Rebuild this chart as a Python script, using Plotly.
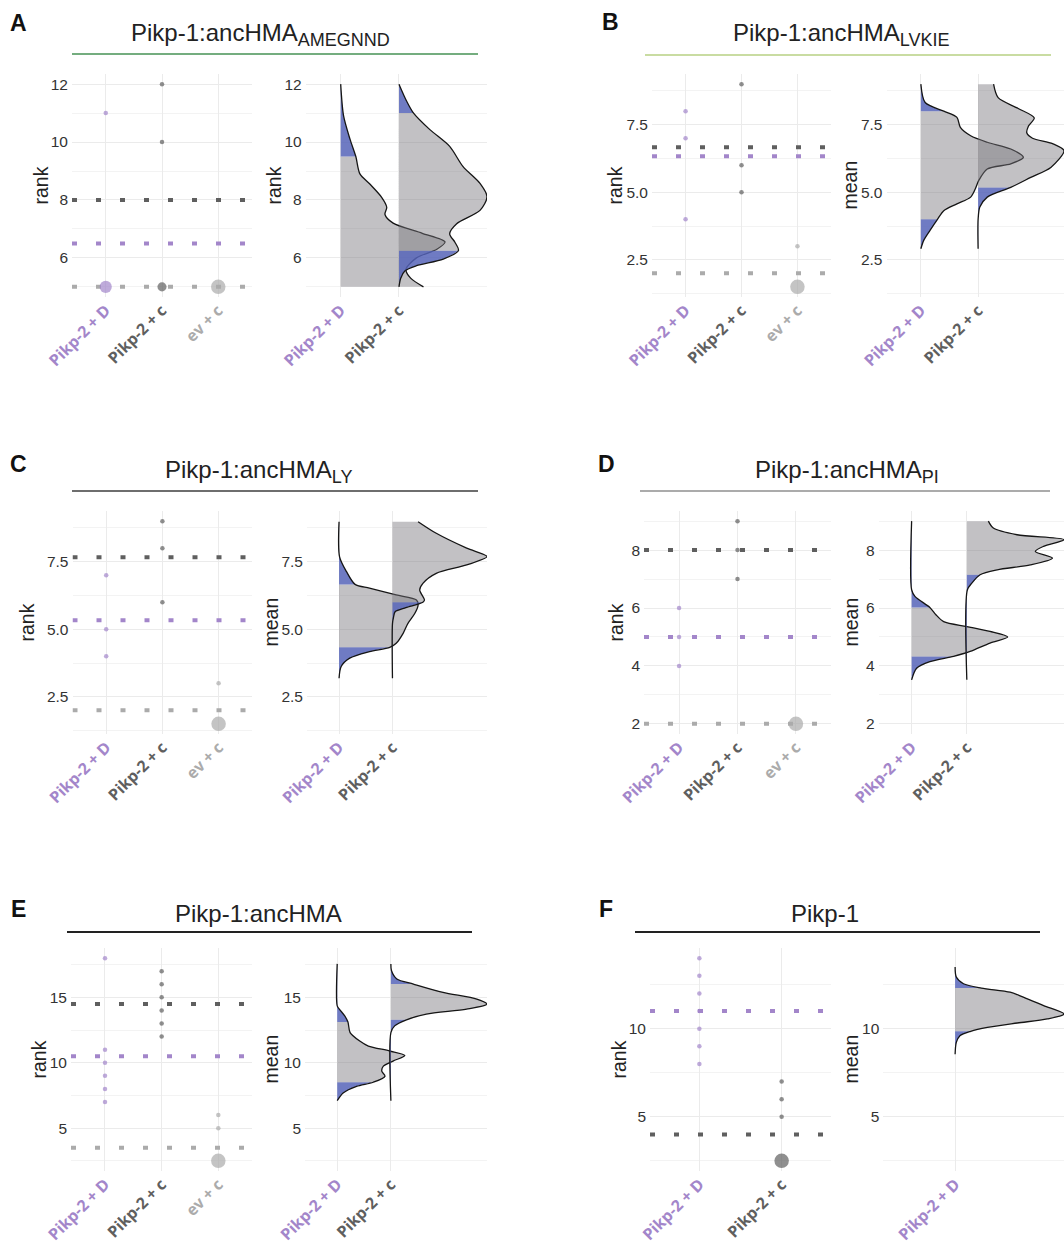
import numpy as np
import plotly.graph_objects as go

FIG_W, FIG_H = 1064, 1249

GROUPS = ["Pikp-2 + D", "Pikp-2 + c", "ev + c"]
GROUP_COLORS = ["#a386ca", "#5f5f5f", "#ababab"]

# ---- per-replicate ranks -------------------------------------------------
A_rank_D = [11, 5, 5, 5]
A_rank_c = [12, 10, 5, 5]
A_rank_ev = [5, 5, 5, 5]

B_rank_D = [8, 7, 4]
B_rank_c = [9, 6, 5]
B_rank_ev = [3, 1.5, 1.5]

C_rank_D = [7, 5, 4]
C_rank_c = [9, 8, 6]
C_rank_ev = [3, 1.5, 1.5]

D_rank_D = [6, 5, 4]
D_rank_c = [9, 8, 7]
D_rank_ev = [2, 2, 2]

E_rank_D = [18, 11, 10, 9, 8, 7]
E_rank_c = [17, 16, 15, 14, 13, 12]
E_rank_ev = [6, 5, 2.5, 2.5, 2.5, 2.5]

F_rank_D = [14, 13, 12, 11, 10, 9, 8]
F_rank_c = [7, 6, 5, 2.5, 2.5, 2.5, 2.5]

# ---- bootstrap densities of the mean rank (value, density width) ---------
A_dens_D_y = [5.0, 5.3, 5.6, 6.0, 6.3, 6.55, 6.85, 7.2, 7.5, 7.75, 8.1, 8.55, 8.9, 9.5, 10.1, 10.9, 12.0]
A_dens_D_w = [1.42, 1.2, 1.12, 1.3, 1.65, 1.79, 1.4, 0.9, 0.76, 0.79, 0.7, 0.5, 0.33, 0.26, 0.16, 0.05, 0.0]
A_ci_D = (5.0, 9.5)
A_dens_c_y = [5.0, 5.3, 5.55, 5.73, 5.96, 6.25, 6.54, 6.83, 7.18, 7.64, 8.11, 8.57, 9.15, 9.85, 10.43, 11.0, 11.42, 12.0]
A_dens_c_w = [0.0, 0.03, 0.1, 0.3, 0.76, 1.02, 0.96, 0.87, 0.99, 1.39, 1.51, 1.39, 1.1, 0.87, 0.53, 0.25, 0.13, 0.0]
A_ci_c = (6.25, 11.0)

B_dens_D_y = [2.91, 3.22, 3.59, 4.0, 4.32, 4.57, 4.82, 5.12, 5.43, 5.86, 6.05, 6.29, 6.6, 6.85, 7.09, 7.4, 7.77, 8.0, 8.32, 9.0]
B_dens_D_w = [0.0, 0.05, 0.16, 0.29, 0.4, 0.63, 0.87, 0.95, 1.01, 1.16, 1.57, 1.79, 1.57, 1.16, 0.87, 0.69, 0.63, 0.4, 0.075, 0.0]
B_ci_D = (4.0, 8.0)
B_dens_c_y = [2.91, 4.0, 4.45, 4.82, 5.18, 5.55, 5.92, 6.54, 6.8, 7.0, 7.2, 7.45, 7.75, 8.1, 8.5, 9.0]
B_dens_c_w = [0.0, 0.0, 0.03, 0.16, 0.57, 0.92, 1.27, 1.5, 1.3, 0.95, 0.85, 0.88, 0.98, 0.7, 0.35, 0.27]
B_ci_c = (5.18, 9.0)

C_dens_D_y = [3.19, 3.62, 3.93, 4.17, 4.33, 4.48, 4.85, 5.22, 5.59, 5.9, 6.08, 6.27, 6.52, 6.66, 7.13, 7.68, 8.98]
C_dens_D_w = [0.0, 0.04, 0.2, 0.57, 0.95, 1.07, 1.2, 1.29, 1.42, 1.48, 1.45, 1.07, 0.57, 0.3, 0.14, 0.01, 0.0]
C_ci_D = (4.33, 6.66)
C_dens_c_y = [3.19, 5.2, 5.45, 5.65, 5.8, 6.0, 6.08, 6.45, 6.7, 7.07, 7.38, 7.69, 8.0, 8.55, 8.98]
C_dens_c_w = [0.0, 0.0, 0.02, 0.05, 0.25, 0.57, 0.6, 0.51, 0.57, 0.82, 1.39, 1.77, 1.39, 0.82, 0.48]
C_ci_c = (6.0, 8.98)

D_dens_D_y = [3.52, 3.92, 4.15, 4.33, 4.5, 4.79, 5.0, 5.19, 5.36, 5.53, 5.77, 6.02, 6.4, 6.63, 9.0]
D_dens_D_w = [0.0, 0.09, 0.33, 0.76, 1.06, 1.42, 1.74, 1.42, 1.0, 0.58, 0.44, 0.33, 0.06, 0.0, 0.0]
D_ci_D = (4.33, 6.02)
D_dens_c_y = [3.52, 6.63, 6.86, 7.15, 7.32, 7.49, 7.72, 7.95, 8.13, 8.36, 8.53, 8.76, 9.0]
D_dens_c_w = [0.0, 0.01, 0.09, 0.24, 0.55, 1.15, 1.55, 1.24, 1.39, 1.76, 0.91, 0.48, 0.39]
D_ci_c = (7.15, 9.0)

E_dens_D_y = [7.1, 7.69, 8.2, 8.51, 8.97, 9.36, 9.74, 10.13, 10.56, 10.9, 11.28, 11.66, 12.31, 13.12, 13.58, 14.1, 14.35, 17.56]
E_dens_D_w = [0.0, 0.11, 0.36, 0.67, 0.89, 0.83, 0.86, 1.04, 1.26, 0.98, 0.58, 0.42, 0.24, 0.2, 0.14, 0.04, 0.0, 0.0]
E_ci_D = (8.51, 13.12)
E_dens_c_y = [7.1, 12.31, 12.82, 13.28, 13.72, 14.1, 14.48, 14.87, 15.38, 16.02, 16.41, 17.05, 17.56]
E_dens_c_w = [0.0, 0.0, 0.07, 0.29, 0.66, 1.41, 1.79, 1.6, 0.97, 0.42, 0.11, 0.01, 0.0]
E_ci_c = (13.28, 16.02)

F_dens_D_y = [8.55, 9.22, 9.6, 9.85, 10.07, 10.32, 10.55, 10.83, 11.31, 11.79, 12.07, 12.3, 12.55, 12.93, 13.5]
F_dens_D_w = [0.0, 0.01, 0.04, 0.13, 0.27, 0.52, 0.77, 0.91, 0.74, 0.57, 0.46, 0.22, 0.07, 0.01, 0.0]
F_ci_D = (9.85, 12.3)

# ---- styling --------------------------------------------------------------
GRID = "#ebebeb"
GRID_MINOR = "#f3f3f3"
TEXT = "#222222"
FONT = "Liberation Sans, Arial, sans-serif"
TICK_FONT = "Open Sans, Liberation Sans, sans-serif"
GREY_FILL = "rgba(120,118,124,0.45)"
BLUE_FILL = "rgba(86,100,184,0.85)"
ROW_H = 223


def variant(name, suffix=""):
    if not suffix:
        return name
    return f"{name}<sub><span style='font-size:18px'>{suffix}</span></sub>"


PANELS = [
    dict(letter="A", letter_xy=(18.5, 23.5), title=variant("Pikp-1:ancHMA", "AMEGNND"), title_xy=(260, 35),
         rule=(72, 478, 54), rule_color="#74ad7f", top=74,
         ranks=[A_rank_D, A_rank_c, A_rank_ev],
         dens=[(A_dens_D_y, A_dens_D_w, A_ci_D), (A_dens_c_y, A_dens_c_w, A_ci_c)],
         dens_label="rank", dot_px=(72, 252), dens_px=(305.7, 487), ytitle_px=(41, 274),
         dtick=2, minor=1, fmt=""),
    dict(letter="B", letter_xy=(610, 22.5), title=variant("Pikp-1:ancHMA", "LVKIE"), title_xy=(841, 35),
         rule=(645, 1051, 55), rule_color="#c9dca2", top=74,
         ranks=[B_rank_D, B_rank_c, B_rank_ev],
         dens=[(B_dens_D_y, B_dens_D_w, B_ci_D), (B_dens_c_y, B_dens_c_w, B_ci_c)],
         dens_label="mean", dot_px=(652, 831), dens_px=(886.5, 1064), ytitle_px=(615, 850),
         dtick=2.5, minor=1.25, fmt=".1f"),
    dict(letter="C", letter_xy=(18.5, 464), title=variant("Pikp-1:ancHMA", "LY"), title_xy=(258, 472),
         rule=(72, 478, 491), rule_color="#6e6e6e", top=511,
         ranks=[C_rank_D, C_rank_c, C_rank_ev],
         dens=[(C_dens_D_y, C_dens_D_w, C_ci_D), (C_dens_c_y, C_dens_c_w, C_ci_c)],
         dens_label="mean", dot_px=(72.5, 252.3), dens_px=(307, 487), ytitle_px=(26, 270),
         dtick=2.5, minor=1.25, fmt=".1f"),
    dict(letter="D", letter_xy=(606, 464), title=variant("Pikp-1:ancHMA", "PI"), title_xy=(847, 472),
         rule=(640, 1050, 491), rule_color="#ababab", top=511,
         ranks=[D_rank_D, D_rank_c, D_rank_ev],
         dens=[(D_dens_D_y, D_dens_D_w, D_ci_D), (D_dens_c_y, D_dens_c_w, D_ci_c)],
         dens_label="mean", dot_px=(644, 831), dens_px=(878.5, 1064), ytitle_px=(615, 850),
         dtick=2, minor=1, fmt=""),
    dict(letter="E", letter_xy=(18.5, 909), title=variant("Pikp-1:ancHMA"), title_xy=(258, 913),
         rule=(67, 472, 932), rule_color="#222222", top=948,
         ranks=[E_rank_D, E_rank_c, E_rank_ev],
         dens=[(E_dens_D_y, E_dens_D_w, E_ci_D), (E_dens_c_y, E_dens_c_w, E_ci_c)],
         dens_label="mean", dot_px=(71, 252.3), dens_px=(305, 487), ytitle_px=(38, 270),
         dtick=5, minor=2.5, fmt=""),
    dict(letter="F", letter_xy=(606, 909), title=variant("Pikp-1"), title_xy=(825, 913),
         rule=(635, 1040, 932), rule_color="#222222", top=948,
         ranks=[F_rank_D, F_rank_c],
         dens=[(F_dens_D_y, F_dens_D_w, F_ci_D)],
         dens_label="mean", dot_px=(650, 831), dens_px=(883.3, 1064), ytitle_px=(618, 850),
         dtick=5, minor=2.5, fmt=""),
]


def fx(p):
    return p / FIG_W


def fy(p):
    return 1 - p / FIG_H


def axis_names(n):
    return ("xaxis" if n == 1 else f"xaxis{n}", "yaxis" if n == 1 else f"yaxis{n}",
            "x" if n == 1 else f"x{n}", "y" if n == 1 else f"y{n}")


def tick_label(i):
    return f"<b><span style='color:{GROUP_COLORS[i]}'>{GROUPS[i]}</span></b>"


def dot_diameters(counts, cmax, dmin=4.5, dmax=14.5):
    if cmax <= 1:
        return [dmin] * len(counts)
    return [float(np.sqrt(dmin ** 2 + (c - 1) / (cmax - 1) * (dmax ** 2 - dmin ** 2))) for c in counts]


def text_note(x, y, text, size, color=TEXT, angle=0):
    return dict(x=fx(x), y=fy(y), xref="paper", yref="paper", text=text, showarrow=False,
                xanchor="center", yanchor="middle", textangle=angle,
                font=dict(family=FONT, size=size, color=color))


fig = go.Figure()
annotations = []
shapes = []
layout = {}

for k, p in enumerate(PANELS):
    n_dot, n_den = 2 * k + 1, 2 * k + 2
    xa_dot, ya_dot, xr_dot, yr_dot = axis_names(n_dot)
    xa_den, ya_den, xr_den, yr_den = axis_names(n_den)

    top = p["top"]
    ydom = [fy(top + ROW_H), fy(top)]
    ranks = p["ranks"]
    all_r = [v for g in ranks for v in g]
    rmin, rmax = min(all_r), max(all_r)
    pad = 0.05 * (rmax - rmin)
    yrange = [rmin - pad, rmax + pad]
    ngrp = len(ranks)

    yaxis_common = dict(
        domain=ydom, range=yrange, dtick=p["dtick"], tick0=0, tickformat=p["fmt"],
        showgrid=True, gridcolor=GRID, gridwidth=1, zeroline=False, showline=False,
        ticks="", tickfont=dict(family=FONT, size=15.5, color="#333333"), ticklabelstandoff=3,
        minor=dict(dtick=p["minor"], tick0=0, showgrid=True, gridcolor=GRID_MINOR, gridwidth=1),
        fixedrange=True, automargin=False,
    )
    xaxis_common = dict(
        tickmode="array", tickangle=-45, tickfont=dict(family=TICK_FONT, size=16),
        showgrid=True, gridcolor=GRID, zeroline=False, showline=False, ticks="",
        fixedrange=True, automargin=False,
    )

    # ---- dot plot of replicate ranks ----
    layout[xa_dot] = dict(
        domain=[fx(p["dot_px"][0]), fx(p["dot_px"][1])], range=[0.4, ngrp + 0.6],
        tickvals=list(range(1, ngrp + 1)), ticktext=[tick_label(i) for i in range(ngrp)],
        anchor=yr_dot, **xaxis_common,
    )
    layout[ya_dot] = dict(anchor=xr_dot, **yaxis_common)

    # group means as dotted reference lines
    for gi, g in enumerate(ranks):
        m = float(np.mean(g))
        fig.add_trace(go.Scatter(
            x=[0.4, ngrp + 0.6], y=[m, m], mode="lines",
            line=dict(color=GROUP_COLORS[gi], width=4, dash="5px,19px"),
            xaxis=xr_dot, yaxis=yr_dot, hoverinfo="skip", showlegend=False))

    counts_all = []
    for g in ranks:
        vals, cnts = np.unique(g, return_counts=True)
        counts_all.extend(cnts.tolist())
    cmax = max(counts_all)
    for gi, g in enumerate(ranks):
        vals, cnts = np.unique(g, return_counts=True)
        fig.add_trace(go.Scatter(
            x=[gi + 1] * len(vals), y=vals.tolist(), mode="markers",
            marker=dict(color=GROUP_COLORS[gi], size=dot_diameters(cnts.tolist(), cmax),
                        line=dict(width=0)),
            xaxis=xr_dot, yaxis=yr_dot, hoverinfo="skip", showlegend=False))

    # ---- half-eye densities of the bootstrapped mean ----
    dens = p["dens"]
    xmax = max(i + 1 + max(w) for i, (y, w, ci) in enumerate(dens))
    layout[xa_den] = dict(
        domain=[fx(p["dens_px"][0]), fx(p["dens_px"][1])], range=[0.4, xmax],
        tickvals=list(range(1, len(dens) + 1)), ticktext=[tick_label(i) for i in range(len(dens))],
        anchor=yr_den, **xaxis_common,
    )
    layout[ya_den] = dict(anchor=xr_den, **yaxis_common)

    for di, (ys, ws, (lo, hi)) in enumerate(dens):
        base = di + 1
        ys_a = np.asarray(ys, dtype=float)
        xs_a = base + np.asarray(ws, dtype=float)
        pieces = [
            (ys_a <= lo, BLUE_FILL),
            ((ys_a >= lo) & (ys_a <= hi), GREY_FILL),
            (ys_a >= hi, BLUE_FILL),
        ]
        for mask, col in pieces:
            if mask.sum() < 2:
                continue
            yy = ys_a[mask]
            xx = xs_a[mask]
            fig.add_trace(go.Scatter(
                x=[base, base], y=[yy[0], yy[-1]], mode="lines", line=dict(width=0),
                xaxis=xr_den, yaxis=yr_den, hoverinfo="skip", showlegend=False))
            fig.add_trace(go.Scatter(
                x=xx.tolist(), y=yy.tolist(), mode="lines", fill="tonextx", fillcolor=col,
                line=dict(width=0, shape="spline", smoothing=0.8),
                xaxis=xr_den, yaxis=yr_den, hoverinfo="skip", showlegend=False))
        fig.add_trace(go.Scatter(
            x=xs_a.tolist(), y=ys_a.tolist(), mode="lines",
            line=dict(color="#151515", width=1.3, shape="spline", smoothing=0.8),
            xaxis=xr_den, yaxis=yr_den, hoverinfo="skip", showlegend=False))

    # ---- panel decorations ----
    ymid = top + ROW_H / 2
    annotations.append(text_note(p["ytitle_px"][0], ymid, "rank", 19.5, angle=-90))
    annotations.append(text_note(p["ytitle_px"][1], ymid, p["dens_label"], 19.5, angle=-90))
    annotations.append(text_note(p["title_xy"][0], p["title_xy"][1], p["title"], 24))
    annotations.append(text_note(p["letter_xy"][0], p["letter_xy"][1], f"<b>{p['letter']}</b>", 23,
                                 color="#111111"))
    x0, x1, yl = p["rule"]
    shapes.append(dict(type="line", xref="paper", yref="paper", x0=fx(x0), x1=fx(x1),
                       y0=fy(yl), y1=fy(yl), line=dict(color=p["rule_color"], width=2)))

fig.update_layout(
    width=FIG_W, height=FIG_H,
    margin=dict(l=0, r=0, t=0, b=0, autoexpand=False),
    paper_bgcolor="white", plot_bgcolor="white",
    showlegend=False,
    annotations=annotations, shapes=shapes,
    **layout,
)

fig.write_html("out.html")
